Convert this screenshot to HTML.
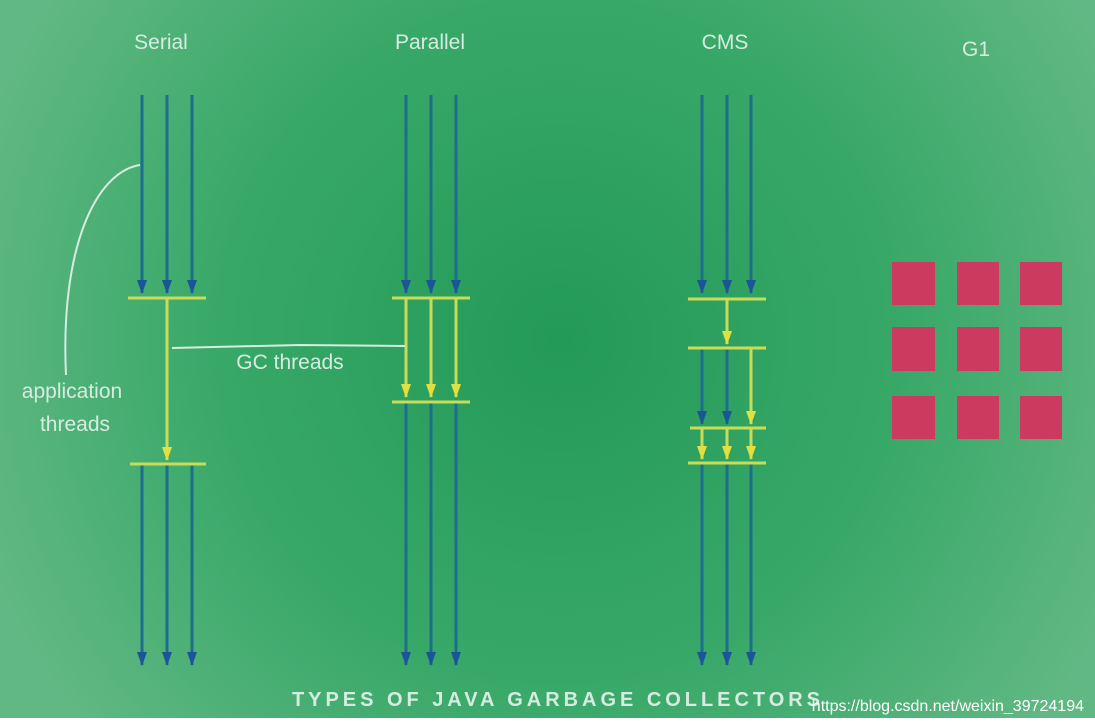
<!DOCTYPE html>
<html><head><meta charset="utf-8"><style>
html,body{margin:0;padding:0;width:1095px;height:724px;overflow:hidden;background:#fff}
</style></head><body>
<svg width="1095" height="724" viewBox="0 0 1095 724" xmlns="http://www.w3.org/2000/svg">
<defs>
<radialGradient id="bg" cx="560" cy="340" r="620" gradientUnits="userSpaceOnUse">
<stop offset="0" stop-color="#249a58"/>
<stop offset="0.55" stop-color="#38a868"/>
<stop offset="1" stop-color="#62b884"/>
</radialGradient>
<marker id="ab" markerWidth="14" markerHeight="10" refX="13" refY="5" orient="auto" markerUnits="userSpaceOnUse" viewBox="0 0 14 10">
<path d="M0,0 L14,5 L0,10 Z" fill="#1a559a"/></marker>
<marker id="ay" markerWidth="14" markerHeight="10" refX="13" refY="5" orient="auto" markerUnits="userSpaceOnUse" viewBox="0 0 14 10">
<path d="M0,0 L14,5 L0,10 Z" fill="#e0e040"/></marker>
</defs>
<rect width="1095" height="718" fill="url(#bg)"/>
<g font-family="Liberation Sans, sans-serif" font-size="21" fill="#d6ece0" text-anchor="middle">
<text x="161" y="49">Serial</text>
<text x="430" y="49">Parallel</text>
<text x="725" y="49">CMS</text>
<text x="976" y="56">G1</text>
<text x="290" y="369">GC threads</text>
<text x="72" y="398">application</text>
<text x="75" y="431">threads</text>
</g>
<g stroke="#1c6e8c" stroke-width="3" fill="none">
<line x1="142" y1="95" x2="142" y2="293" marker-end="url(#ab)"/>
<line x1="167" y1="95" x2="167" y2="293" marker-end="url(#ab)"/>
<line x1="192" y1="95" x2="192" y2="293" marker-end="url(#ab)"/>
<line x1="142" y1="464" x2="142" y2="665" marker-end="url(#ab)"/>
<line x1="167" y1="464" x2="167" y2="665" marker-end="url(#ab)"/>
<line x1="192" y1="464" x2="192" y2="665" marker-end="url(#ab)"/>
<line x1="406" y1="95" x2="406" y2="293" marker-end="url(#ab)"/>
<line x1="431" y1="95" x2="431" y2="293" marker-end="url(#ab)"/>
<line x1="456" y1="95" x2="456" y2="293" marker-end="url(#ab)"/>
<line x1="406" y1="402" x2="406" y2="665" marker-end="url(#ab)"/>
<line x1="431" y1="402" x2="431" y2="665" marker-end="url(#ab)"/>
<line x1="456" y1="402" x2="456" y2="665" marker-end="url(#ab)"/>
<line x1="702" y1="95" x2="702" y2="293" marker-end="url(#ab)"/>
<line x1="727" y1="95" x2="727" y2="293" marker-end="url(#ab)"/>
<line x1="751" y1="95" x2="751" y2="293" marker-end="url(#ab)"/>
<line x1="702" y1="348" x2="702" y2="424" marker-end="url(#ab)"/>
<line x1="727" y1="348" x2="727" y2="424" marker-end="url(#ab)"/>
<line x1="702" y1="463" x2="702" y2="665" marker-end="url(#ab)"/>
<line x1="727" y1="463" x2="727" y2="665" marker-end="url(#ab)"/>
<line x1="751" y1="463" x2="751" y2="665" marker-end="url(#ab)"/>
</g>
<g stroke="#c8dc58" stroke-width="3" fill="none">
<line x1="128" y1="298" x2="206" y2="298"/>
<line x1="167" y1="298" x2="167" y2="460" marker-end="url(#ay)"/>
<line x1="130" y1="464" x2="206" y2="464"/>
<line x1="392" y1="298" x2="470" y2="298"/>
<line x1="392" y1="402" x2="470" y2="402"/>
<line x1="406" y1="298" x2="406" y2="397" marker-end="url(#ay)"/>
<line x1="431" y1="298" x2="431" y2="397" marker-end="url(#ay)"/>
<line x1="456" y1="298" x2="456" y2="397" marker-end="url(#ay)"/>
<line x1="688" y1="299" x2="766" y2="299"/>
<line x1="727" y1="299" x2="727" y2="344" marker-end="url(#ay)"/>
<line x1="688" y1="348" x2="766" y2="348"/>
<line x1="751" y1="348" x2="751" y2="424" marker-end="url(#ay)"/>
<line x1="690" y1="428" x2="766" y2="428"/>
<line x1="702" y1="428" x2="702" y2="459" marker-end="url(#ay)"/>
<line x1="727" y1="428" x2="727" y2="459" marker-end="url(#ay)"/>
<line x1="751" y1="428" x2="751" y2="459" marker-end="url(#ay)"/>
<line x1="688" y1="463" x2="766" y2="463"/>
</g>
<g stroke="#d6ece0" stroke-width="2" fill="none">
<path d="M140,165 C95,172 60,250 66,375"/>
<path d="M172,348 L300,345 L405,346"/>
</g>
<g fill="#cc3a60">
<rect x="892" y="262" width="43" height="43"/><rect x="957" y="262" width="42" height="43"/><rect x="1020" y="262" width="42" height="43"/>
<rect x="892" y="327" width="43" height="44"/><rect x="957" y="327" width="42" height="44"/><rect x="1020" y="327" width="42" height="44"/>
<rect x="892" y="396" width="43" height="43"/><rect x="957" y="396" width="42" height="43"/><rect x="1020" y="396" width="42" height="43"/>
</g>
<text x="292" y="706" font-family="Liberation Sans, sans-serif" font-weight="bold" font-size="20" fill="#d6ece0" textLength="528" lengthAdjust="spacing">TYPES OF JAVA GARBAGE COLLECTORS</text>
<text x="1084" y="711" text-anchor="end" font-family="Liberation Sans, sans-serif" font-size="16" fill="#ffffff">https://blog.csdn.net/weixin_39724194</text>
</svg>
</body></html>
